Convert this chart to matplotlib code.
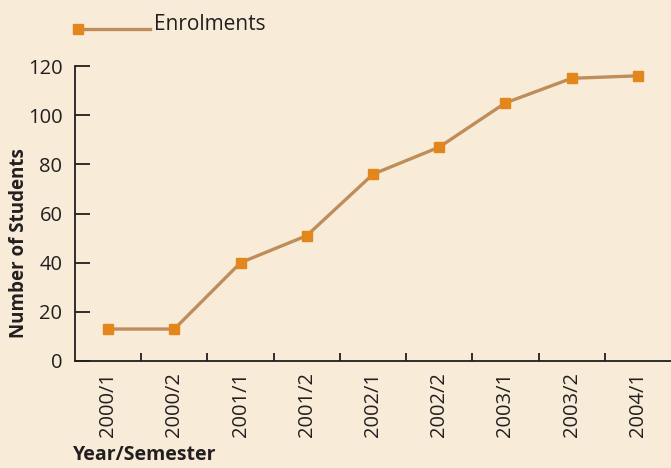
import matplotlib
matplotlib.use("Agg")
import matplotlib.pyplot as plt
from matplotlib.lines import Line2D

semesters = ["2000/1", "2000/2", "2001/1", "2001/2", "2002/1",
             "2002/2", "2003/1", "2003/2", "2004/1"]
enrolments = [13, 13, 40, 51, 76, 87, 105, 115, 116]
y_ticks = [0, 20, 40, 60, 80, 100, 120]

bg = "#F8ECD9"
line_col = "#BF8D5A"
marker_col = "#E3861C"
text_col = "#231F20"

plt.rcParams["font.family"] = ["Open Sans", "DejaVu Sans"]

fig = plt.figure(figsize=(6.71, 4.68), dpi=100, facecolor=bg)
ax = fig.add_axes([75 / 671, 1 - 361 / 468, 596 / 671, 295 / 468])
ax.set_facecolor(bg)

x = range(len(semesters))
ax.plot(x, enrolments, color=line_col, lw=2.4, marker="s", ms=7.5,
        mfc=marker_col, mec=marker_col, clip_on=False, zorder=3)

ax.set_xlim(-0.5, len(semesters) - 0.5)
ax.set_ylim(0, 120)
ax.set_yticks(y_ticks)
ax.set_xticks(list(x))
ax.set_xticklabels(semesters, rotation=90)
ax.set_xticks([i + 0.5 for i in range(len(semesters) - 1)], minor=True)

for s in ["top", "right"]:
    ax.spines[s].set_visible(False)
for s in ["left", "bottom"]:
    ax.spines[s].set_color(text_col)
    ax.spines[s].set_linewidth(1.3)

ax.tick_params(axis="y", direction="in", length=11, width=1.3, colors=text_col,
               labelsize=14.5, pad=9)
ax.tick_params(axis="x", which="major", length=0, labelsize=14.5, colors=text_col, pad=8)
ax.tick_params(axis="x", which="minor", direction="in", length=6, width=1.3,
               colors=text_col)

fig.text(0.029, 1 - 243 / 468, "Number of Students", rotation=90, ha="center",
         va="center", fontsize=13.5, fontweight="bold", color=text_col)
fig.text(73 / 671, 1 - 455 / 468, "Year/Semester", ha="left", va="center",
         fontsize=14, fontweight="bold", color=text_col)

# legend
fig.add_artist(Line2D([78 / 671, 150 / 671], [1 - 29 / 468, 1 - 29 / 468],
                      color=line_col, lw=2.4, transform=fig.transFigure))
fig.add_artist(Line2D([78 / 671], [1 - 29 / 468], marker="s", ms=7.5, ls="none",
                      mfc=marker_col, mec=marker_col, transform=fig.transFigure))
fig.text(154 / 671, 1 - 24 / 468, "Enrolments", ha="left", va="center",
         fontsize=15, color=text_col)

fig.savefig("out.png", dpi=100, facecolor=bg)
